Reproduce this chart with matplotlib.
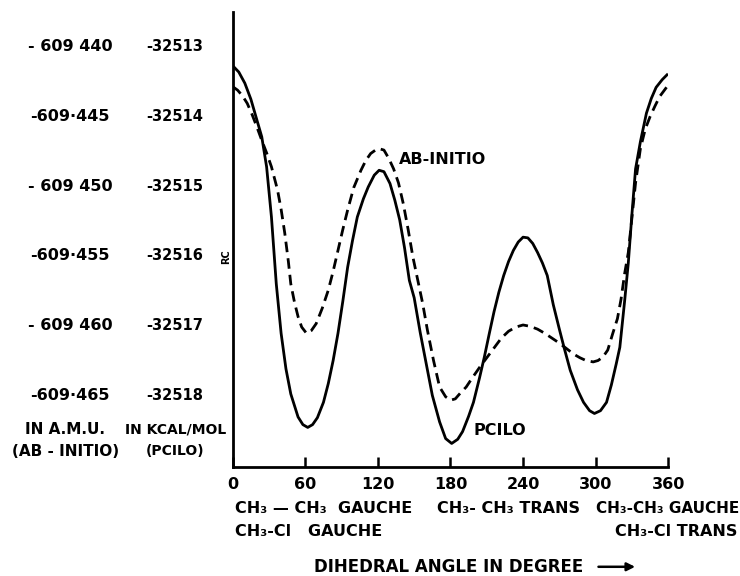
import matplotlib
matplotlib.use("Agg")
import matplotlib.pyplot as plt
from matplotlib.patches import FancyArrowPatch

# PCILO curve (solid line), energy in kcal/mol
pcilo_deg = [0, 5, 10, 15, 20, 24, 28, 32, 36, 40, 44, 48, 54, 58, 62, 66, 70, 75, 79, 83,
             87, 91, 95, 99, 103, 108, 112, 117, 121, 125, 130, 134, 138, 142, 146, 150,
             155, 160, 165, 171, 176, 181, 186, 190, 195, 199, 204, 208, 212, 216, 220,
             224, 228, 232, 236, 240, 244, 248, 252, 256, 260, 265, 270, 274, 279, 285,
             290, 295, 299, 304, 309, 313, 317, 320, 324, 327, 330, 333, 337, 342, 346,
             350, 355, 359]
pcilo_e = [-32513.27, -32513.36, -32513.52, -32513.75, -32514.05, -32514.29, -32514.72,
           -32515.44, -32516.40, -32517.11, -32517.62, -32517.98, -32518.31, -32518.42,
           -32518.46, -32518.42, -32518.32, -32518.10, -32517.83, -32517.50, -32517.11,
           -32516.65, -32516.16, -32515.78, -32515.44, -32515.18, -32515.01, -32514.84,
           -32514.77, -32514.79, -32514.96, -32515.20, -32515.48, -32515.88, -32516.35,
           -32516.60, -32517.10, -32517.55, -32518.00, -32518.38, -32518.62, -32518.69,
           -32518.63, -32518.52, -32518.30, -32518.10, -32517.75, -32517.45, -32517.12,
           -32516.80, -32516.52, -32516.28, -32516.08, -32515.92, -32515.80, -32515.73,
           -32515.74, -32515.82, -32515.95, -32516.10, -32516.28, -32516.70, -32517.05,
           -32517.32, -32517.64, -32517.92, -32518.10, -32518.22, -32518.26, -32518.22,
           -32518.10, -32517.85, -32517.55, -32517.31, -32516.64, -32516.10, -32515.40,
           -32514.75, -32514.36, -32513.95, -32513.74, -32513.58, -32513.47, -32513.40]

# AB-INITIO curve (dashed line), same energy scale
abinit_deg = [0, 4, 8, 12, 16, 20, 24, 28, 32, 37, 40, 43, 46, 48, 51, 54, 57, 61, 65, 69,
              74, 79, 83, 87, 91, 95, 100, 106, 110, 114, 118, 121, 125, 129, 133, 137,
              141, 145, 149, 153, 157, 161, 166, 171, 176, 180, 184, 188, 193, 198, 204,
              210, 216, 222, 228, 234, 240, 246, 252, 258, 264, 270, 276, 282, 287, 292,
              298, 302, 306, 310, 314, 318, 321, 324, 327, 330, 333, 337, 341, 345, 349,
              353, 359]
abinit_e = [-32513.57, -32513.62, -32513.70, -32513.81, -32513.97, -32514.15, -32514.34,
            -32514.52, -32514.72, -32515.05, -32515.33, -32515.67, -32516.08, -32516.40,
            -32516.66, -32516.87, -32517.02, -32517.11, -32517.07, -32516.97, -32516.75,
            -32516.49, -32516.22, -32515.92, -32515.62, -32515.34, -32515.02, -32514.77,
            -32514.63, -32514.53, -32514.48, -32514.46, -32514.48, -32514.60, -32514.75,
            -32514.95, -32515.25, -32515.62, -32516.02, -32516.35, -32516.68, -32517.07,
            -32517.50, -32517.88, -32518.02, -32518.07, -32518.05, -32517.97, -32517.88,
            -32517.75, -32517.60, -32517.46, -32517.32, -32517.18, -32517.08, -32517.02,
            -32516.99, -32517.01, -32517.05, -32517.11, -32517.18, -32517.25, -32517.33,
            -32517.41, -32517.46, -32517.50, -32517.52, -32517.50, -32517.45, -32517.35,
            -32517.12, -32516.90, -32516.62, -32516.25, -32515.95, -32515.45, -32514.95,
            -32514.46, -32514.18, -32514.00, -32513.85, -32513.71, -32513.57]

kcal_ticks = [-32513, -32514, -32515, -32516, -32517, -32518]
kcal_labels = ["-32513", "-32514", "-32515", "-32516", "-32517", "-32518"]
au_labels = ["- 609 440", "-609·445", "- 609 450", "-609·455", "- 609 460", "-609·465"]
x_ticks = [0, 60, 120, 180, 240, 300, 360]

plt.rcParams['font.family'] = ['DejaVu Sans']
plt.rcParams['font.weight'] = 'bold'

fig = plt.figure(figsize=(7.4, 5.76), dpi=100)
ax = fig.add_axes([0.3145, 0.189, 0.5885, 0.79])

ax.plot(pcilo_deg, pcilo_e, color='black', lw=2.0, solid_joinstyle='round')
ax.plot(abinit_deg, abinit_e, color='black', lw=2.0, dashes=(3.8, 2.2))

ax.set_xlim(0, 360)
ax.set_ylim(-32519.03, -32512.5)

for s in ['top', 'right']:
    ax.spines[s].set_visible(False)
for s in ['left', 'bottom']:
    ax.spines[s].set_linewidth(2)

ax.set_xticks(x_ticks)
ax.set_xticklabels([str(t) for t in x_ticks], fontsize=11.5, fontweight='bold')
ax.tick_params(axis='x', direction='in', length=7, width=1.8, pad=7)
ax.set_yticks([])

# energy labels left of the axis, two unit columns
tr = ax.get_yaxis_transform()
for v, a, k in zip(kcal_ticks, au_labels, kcal_labels):
    ax.text(-0.373, v, a, transform=tr, ha='center', va='center', fontsize=11.5,
            fontweight='bold', clip_on=False)
    ax.text(-0.1326, v, k, transform=tr, ha='center', va='center', fontsize=10.5,
            fontweight='bold', clip_on=False)

fig.text(0.088, 0.255, "IN A.M.U.", ha='center', va='center', fontsize=11)
fig.text(0.088, 0.217, "(AB - INITIO)", ha='center', va='center', fontsize=11)
fig.text(0.237, 0.255, "IN KCAL/MOL", ha='center', va='center', fontsize=10)
fig.text(0.237, 0.217, "(PCILO)", ha='center', va='center', fontsize=10)
fig.text(0.306, 0.555, "RC", ha='center', va='center', fontsize=7, rotation=90)

# curve labels
ax.text(137, -32514.62, "AB-INITIO", fontsize=11.5, fontweight='bold',
        ha='left', va='center')
ax.text(199, -32518.50, "PCILO", fontsize=11.5, fontweight='bold',
        ha='left', va='center')

# conformation notes under the axis
fig.text(0.317, 0.118, "CH₃ — CH₃  GAUCHE", ha='left', va='center', fontsize=11.5)
fig.text(0.317, 0.078, "CH₃-Cl   GAUCHE", ha='left', va='center', fontsize=11.5)
fig.text(0.591, 0.118, "CH₃- CH₃ TRANS", ha='left', va='center', fontsize=11.5)
fig.text(0.999, 0.118, "CH₃-CH₃ GAUCHE", ha='right', va='center', fontsize=11)
fig.text(0.997, 0.078, "CH₃-Cl TRANS", ha='right', va='center', fontsize=11.5)

fig.text(0.424, 0.016, "DIHEDRAL ANGLE IN DEGREE", ha='left', va='center', fontsize=12)
fig.add_artist(FancyArrowPatch((0.805, 0.016), (0.862, 0.016),
               transform=fig.transFigure, arrowstyle='-|>', mutation_scale=12,
               color='black', lw=1.8))

fig.savefig("out.png", dpi=100)
